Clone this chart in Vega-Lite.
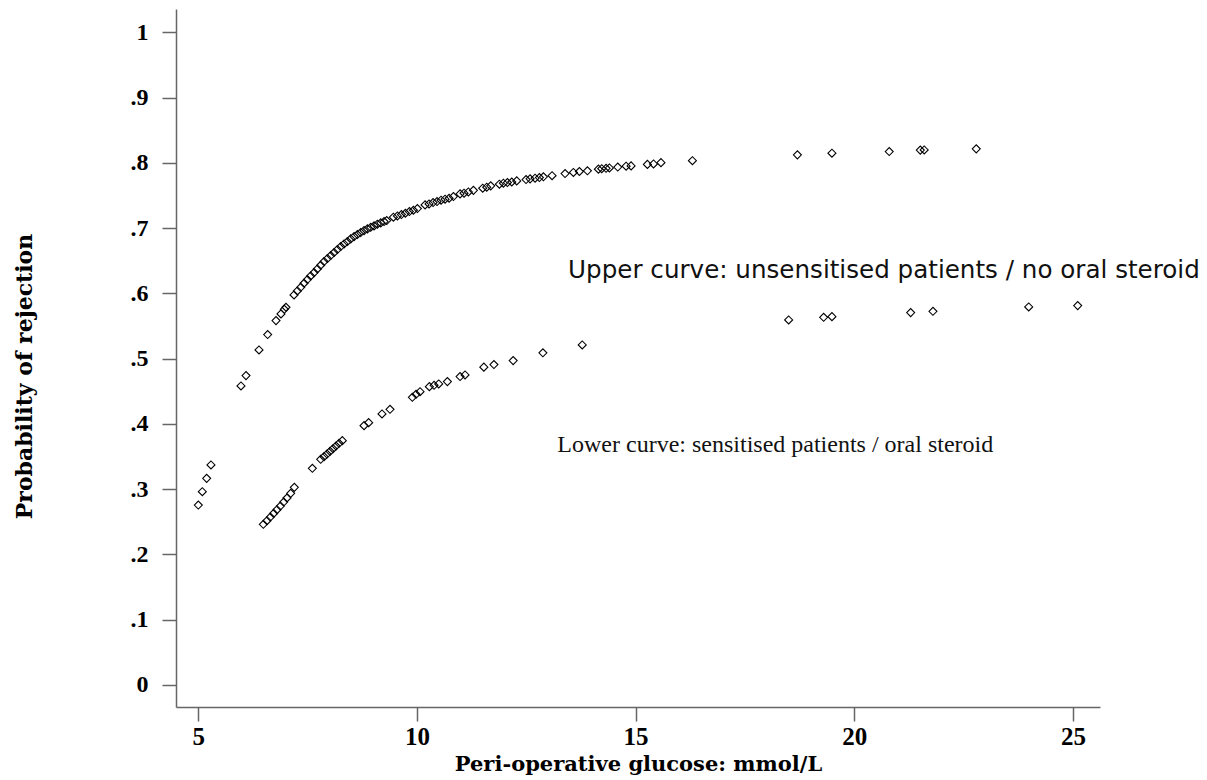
{
  "$schema": "https://vega.github.io/schema/vega-lite/v6.json",
  "width": 924,
  "height": 698,
  "autosize": {"type": "none"},
  "padding": {"left": 176, "top": 9, "right": 107, "bottom": 73},
  "background": "white",
  "config": {"view": {"stroke": null}},
  "datasets": {
    "pts": [
      {"glucose": 5.000, "prob": 0.2756, "curve": "upper"},
      {"glucose": 5.092, "prob": 0.2961, "curve": "upper"},
      {"glucose": 5.191, "prob": 0.3165, "curve": "upper"},
      {"glucose": 5.290, "prob": 0.3370, "curve": "upper"},
      {"glucose": 5.976, "prob": 0.4581, "curve": "upper"},
      {"glucose": 6.091, "prob": 0.4740, "curve": "upper"},
      {"glucose": 6.388, "prob": 0.5134, "curve": "upper"},
      {"glucose": 6.586, "prob": 0.5369, "curve": "upper"},
      {"glucose": 6.777, "prob": 0.5583, "curve": "upper"},
      {"glucose": 6.891, "prob": 0.5686, "curve": "upper"},
      {"glucose": 6.967, "prob": 0.5757, "curve": "upper"},
      {"glucose": 7.005, "prob": 0.5788, "curve": "upper"},
      {"glucose": 7.189, "prob": 0.5977, "curve": "upper"},
      {"glucose": 7.265, "prob": 0.6038, "curve": "upper"},
      {"glucose": 7.342, "prob": 0.6094, "curve": "upper"},
      {"glucose": 7.418, "prob": 0.6156, "curve": "upper"},
      {"glucose": 7.494, "prob": 0.6212, "curve": "upper"},
      {"glucose": 7.570, "prob": 0.6268, "curve": "upper"},
      {"glucose": 7.647, "prob": 0.6319, "curve": "upper"},
      {"glucose": 7.723, "prob": 0.6375, "curve": "upper"},
      {"glucose": 7.799, "prob": 0.6432, "curve": "upper"},
      {"glucose": 7.875, "prob": 0.6488, "curve": "upper"},
      {"glucose": 7.952, "prob": 0.6534, "curve": "upper"},
      {"glucose": 8.028, "prob": 0.6580, "curve": "upper"},
      {"glucose": 8.104, "prob": 0.6626, "curve": "upper"},
      {"glucose": 8.180, "prob": 0.6672, "curve": "upper"},
      {"glucose": 8.257, "prob": 0.6718, "curve": "upper"},
      {"glucose": 8.333, "prob": 0.6759, "curve": "upper"},
      {"glucose": 8.409, "prob": 0.6795, "curve": "upper"},
      {"glucose": 8.485, "prob": 0.6836, "curve": "upper"},
      {"glucose": 8.562, "prob": 0.6871, "curve": "upper"},
      {"glucose": 8.638, "prob": 0.6902, "curve": "upper"},
      {"glucose": 8.714, "prob": 0.6933, "curve": "upper"},
      {"glucose": 8.790, "prob": 0.6963, "curve": "upper"},
      {"glucose": 8.867, "prob": 0.6989, "curve": "upper"},
      {"glucose": 8.943, "prob": 0.7014, "curve": "upper"},
      {"glucose": 9.019, "prob": 0.7035, "curve": "upper"},
      {"glucose": 9.095, "prob": 0.7061, "curve": "upper"},
      {"glucose": 9.172, "prob": 0.7081, "curve": "upper"},
      {"glucose": 9.248, "prob": 0.7101, "curve": "upper"},
      {"glucose": 9.309, "prob": 0.7117, "curve": "upper"},
      {"glucose": 9.461, "prob": 0.7168, "curve": "upper"},
      {"glucose": 9.553, "prob": 0.7188, "curve": "upper"},
      {"glucose": 9.644, "prob": 0.7209, "curve": "upper"},
      {"glucose": 9.736, "prob": 0.7229, "curve": "upper"},
      {"glucose": 9.827, "prob": 0.7255, "curve": "upper"},
      {"glucose": 9.919, "prob": 0.7275, "curve": "upper"},
      {"glucose": 10.010, "prob": 0.7301, "curve": "upper"},
      {"glucose": 10.186, "prob": 0.7357, "curve": "upper"},
      {"glucose": 10.277, "prob": 0.7372, "curve": "upper"},
      {"glucose": 10.369, "prob": 0.7393, "curve": "upper"},
      {"glucose": 10.460, "prob": 0.7408, "curve": "upper"},
      {"glucose": 10.552, "prob": 0.7429, "curve": "upper"},
      {"glucose": 10.643, "prob": 0.7444, "curve": "upper"},
      {"glucose": 10.735, "prob": 0.7459, "curve": "upper"},
      {"glucose": 10.834, "prob": 0.7485, "curve": "upper"},
      {"glucose": 10.986, "prob": 0.7526, "curve": "upper"},
      {"glucose": 11.077, "prob": 0.7536, "curve": "upper"},
      {"glucose": 11.176, "prob": 0.7556, "curve": "upper"},
      {"glucose": 11.291, "prob": 0.7580, "curve": "upper"},
      {"glucose": 11.504, "prob": 0.7613, "curve": "upper"},
      {"glucose": 11.596, "prob": 0.7628, "curve": "upper"},
      {"glucose": 11.687, "prob": 0.7649, "curve": "upper"},
      {"glucose": 11.885, "prob": 0.7674, "curve": "upper"},
      {"glucose": 11.977, "prob": 0.7690, "curve": "upper"},
      {"glucose": 12.068, "prob": 0.7700, "curve": "upper"},
      {"glucose": 12.168, "prob": 0.7708, "curve": "upper"},
      {"glucose": 12.282, "prob": 0.7725, "curve": "upper"},
      {"glucose": 12.495, "prob": 0.7745, "curve": "upper"},
      {"glucose": 12.587, "prob": 0.7756, "curve": "upper"},
      {"glucose": 12.701, "prob": 0.7766, "curve": "upper"},
      {"glucose": 12.800, "prob": 0.7776, "curve": "upper"},
      {"glucose": 12.892, "prob": 0.7787, "curve": "upper"},
      {"glucose": 13.090, "prob": 0.7805, "curve": "upper"},
      {"glucose": 13.387, "prob": 0.7838, "curve": "upper"},
      {"glucose": 13.578, "prob": 0.7855, "curve": "upper"},
      {"glucose": 13.715, "prob": 0.7869, "curve": "upper"},
      {"glucose": 13.898, "prob": 0.7880, "curve": "upper"},
      {"glucose": 14.150, "prob": 0.7905, "curve": "upper"},
      {"glucose": 14.226, "prob": 0.7912, "curve": "upper"},
      {"glucose": 14.325, "prob": 0.7918, "curve": "upper"},
      {"glucose": 14.401, "prob": 0.7924, "curve": "upper"},
      {"glucose": 14.592, "prob": 0.7937, "curve": "upper"},
      {"glucose": 14.783, "prob": 0.7950, "curve": "upper"},
      {"glucose": 14.897, "prob": 0.7955, "curve": "upper"},
      {"glucose": 15.27, "prob": 0.7978, "curve": "upper"},
      {"glucose": 15.41, "prob": 0.7985, "curve": "upper"},
      {"glucose": 15.58, "prob": 0.8005, "curve": "upper"},
      {"glucose": 16.30, "prob": 0.8035, "curve": "upper"},
      {"glucose": 18.70, "prob": 0.8124, "curve": "upper"},
      {"glucose": 19.49, "prob": 0.8150, "curve": "upper"},
      {"glucose": 20.80, "prob": 0.8175, "curve": "upper"},
      {"glucose": 21.51, "prob": 0.8197, "curve": "upper"},
      {"glucose": 21.60, "prob": 0.8199, "curve": "upper"},
      {"glucose": 22.79, "prob": 0.8216, "curve": "upper"},
      {"glucose": 6.487, "prob": 0.2460, "curve": "lower"},
      {"glucose": 6.571, "prob": 0.2516, "curve": "lower"},
      {"glucose": 6.647, "prob": 0.2572, "curve": "lower"},
      {"glucose": 6.723, "prob": 0.2628, "curve": "lower"},
      {"glucose": 6.800, "prob": 0.2685, "curve": "lower"},
      {"glucose": 6.876, "prob": 0.2741, "curve": "lower"},
      {"glucose": 6.952, "prob": 0.2802, "curve": "lower"},
      {"glucose": 7.028, "prob": 0.2864, "curve": "lower"},
      {"glucose": 7.112, "prob": 0.2935, "curve": "lower"},
      {"glucose": 7.196, "prob": 0.3027, "curve": "lower"},
      {"glucose": 7.608, "prob": 0.3319, "curve": "lower"},
      {"glucose": 7.798, "prob": 0.3457, "curve": "lower"},
      {"glucose": 7.875, "prob": 0.3498, "curve": "lower"},
      {"glucose": 7.943, "prob": 0.3538, "curve": "lower"},
      {"glucose": 8.012, "prob": 0.3579, "curve": "lower"},
      {"glucose": 8.081, "prob": 0.3620, "curve": "lower"},
      {"glucose": 8.149, "prob": 0.3661, "curve": "lower"},
      {"glucose": 8.218, "prob": 0.3702, "curve": "lower"},
      {"glucose": 8.294, "prob": 0.3743, "curve": "lower"},
      {"glucose": 8.790, "prob": 0.3973, "curve": "lower"},
      {"glucose": 8.896, "prob": 0.4019, "curve": "lower"},
      {"glucose": 9.201, "prob": 0.4152, "curve": "lower"},
      {"glucose": 9.384, "prob": 0.4224, "curve": "lower"},
      {"glucose": 9.895, "prob": 0.4408, "curve": "lower"},
      {"glucose": 9.979, "prob": 0.4454, "curve": "lower"},
      {"glucose": 10.071, "prob": 0.4494, "curve": "lower"},
      {"glucose": 10.284, "prob": 0.4571, "curve": "lower"},
      {"glucose": 10.391, "prob": 0.4592, "curve": "lower"},
      {"glucose": 10.498, "prob": 0.4612, "curve": "lower"},
      {"glucose": 10.696, "prob": 0.4648, "curve": "lower"},
      {"glucose": 10.986, "prob": 0.4725, "curve": "lower"},
      {"glucose": 11.100, "prob": 0.4750, "curve": "lower"},
      {"glucose": 11.53, "prob": 0.4870, "curve": "lower"},
      {"glucose": 11.76, "prob": 0.4910, "curve": "lower"},
      {"glucose": 12.20, "prob": 0.4970, "curve": "lower"},
      {"glucose": 12.88, "prob": 0.5090, "curve": "lower"},
      {"glucose": 13.78, "prob": 0.5210, "curve": "lower"},
      {"glucose": 18.50, "prob": 0.5593, "curve": "lower"},
      {"glucose": 19.30, "prob": 0.5634, "curve": "lower"},
      {"glucose": 19.49, "prob": 0.5644, "curve": "lower"},
      {"glucose": 21.29, "prob": 0.5706, "curve": "lower"},
      {"glucose": 21.80, "prob": 0.5726, "curve": "lower"},
      {"glucose": 23.99, "prob": 0.5793, "curve": "lower"},
      {"glucose": 25.11, "prob": 0.5813, "curve": "lower"}
    ],
    "notes": [
      {"label": "Upper curve: unsensitised patients / no oral steroid", "style": "upper"}
    ],
    "notes2": [
      {"label": "Lower curve: sensitised patients / oral steroid", "style": "lower"}
    ]
  },
  "layer": [
    {
      "data": {"name": "pts"},
      "mark": {"type": "point", "shape": "diamond", "filled": false, "color": "black", "strokeWidth": 1.1, "size": 64, "opacity": 1},
      "encoding": {
        "x": {
          "field": "glucose", "type": "quantitative",
          "scale": {"domain": [4.49, 25.62], "nice": false, "zero": false},
          "axis": {
            "values": [5, 10, 15, 20, 25],
            "title": "Peri-operative glucose: mmol/L",
            "grid": false,
            "domainColor": "#666666", "domainWidth": 1.5,
            "tickColor": "#666666", "tickWidth": 1.5, "tickSize": 14,
            "labelFont": "Liberation Serif", "labelFontWeight": "bold", "labelFontSize": 25, "labelColor": "black",
            "labelPadding": 3, "labelFlush": false,
            "titleFont": "DejaVu Serif", "titleFontWeight": "bold", "titleFontSize": 21, "titleColor": "black",
            "titleBaseline": "alphabetic", "titleY": 63
          }
        },
        "y": {
          "field": "prob", "type": "quantitative",
          "scale": {"domain": [-0.034, 1.036], "nice": false, "zero": false},
          "axis": {
            "values": [0, 0.1, 0.2, 0.3, 0.4, 0.5, 0.6, 0.7, 0.8, 0.9, 1],
            "labelExpr": "datum.value == 0 ? '0' : datum.value == 1 ? '1' : replace(format(datum.value, '.1f'), '0.', '.')",
            "title": "Probability of rejection",
            "grid": false,
            "domainColor": "#666666", "domainWidth": 1.5,
            "tickColor": "#666666", "tickWidth": 1.5, "tickSize": 14,
            "labelFont": "Liberation Serif", "labelFontWeight": "bold", "labelFontSize": 24, "labelColor": "black",
            "labelPadding": 14, "labelFlush": false,
            "titleFont": "DejaVu Serif", "titleFontWeight": "bold", "titleFontSize": 22, "titleColor": "black",
            "titleBaseline": "alphabetic", "titleX": -145, "titleY": 367, "titleAlign": "center", "titleAngle": 270
          }
        }
      }
    },
    {
      "data": {"name": "notes"},
      "mark": {"type": "text", "font": "DejaVu Sans", "fontSize": 24.6, "align": "left", "baseline": "alphabetic", "color": "#111111"},
      "encoding": {
        "x": {"datum": 13.456, "type": "quantitative"},
        "y": {"datum": 0.6233, "type": "quantitative"},
        "text": {"field": "label", "type": "nominal"}
      }
    },
    {
      "data": {"name": "notes2"},
      "mark": {"type": "text", "font": "Liberation Serif", "fontSize": 24, "align": "left", "baseline": "alphabetic", "color": "#111111"},
      "encoding": {
        "x": {"datum": 13.211, "type": "quantitative"},
        "y": {"datum": 0.3564, "type": "quantitative"},
        "text": {"field": "label", "type": "nominal"}
      }
    }
  ]
}
